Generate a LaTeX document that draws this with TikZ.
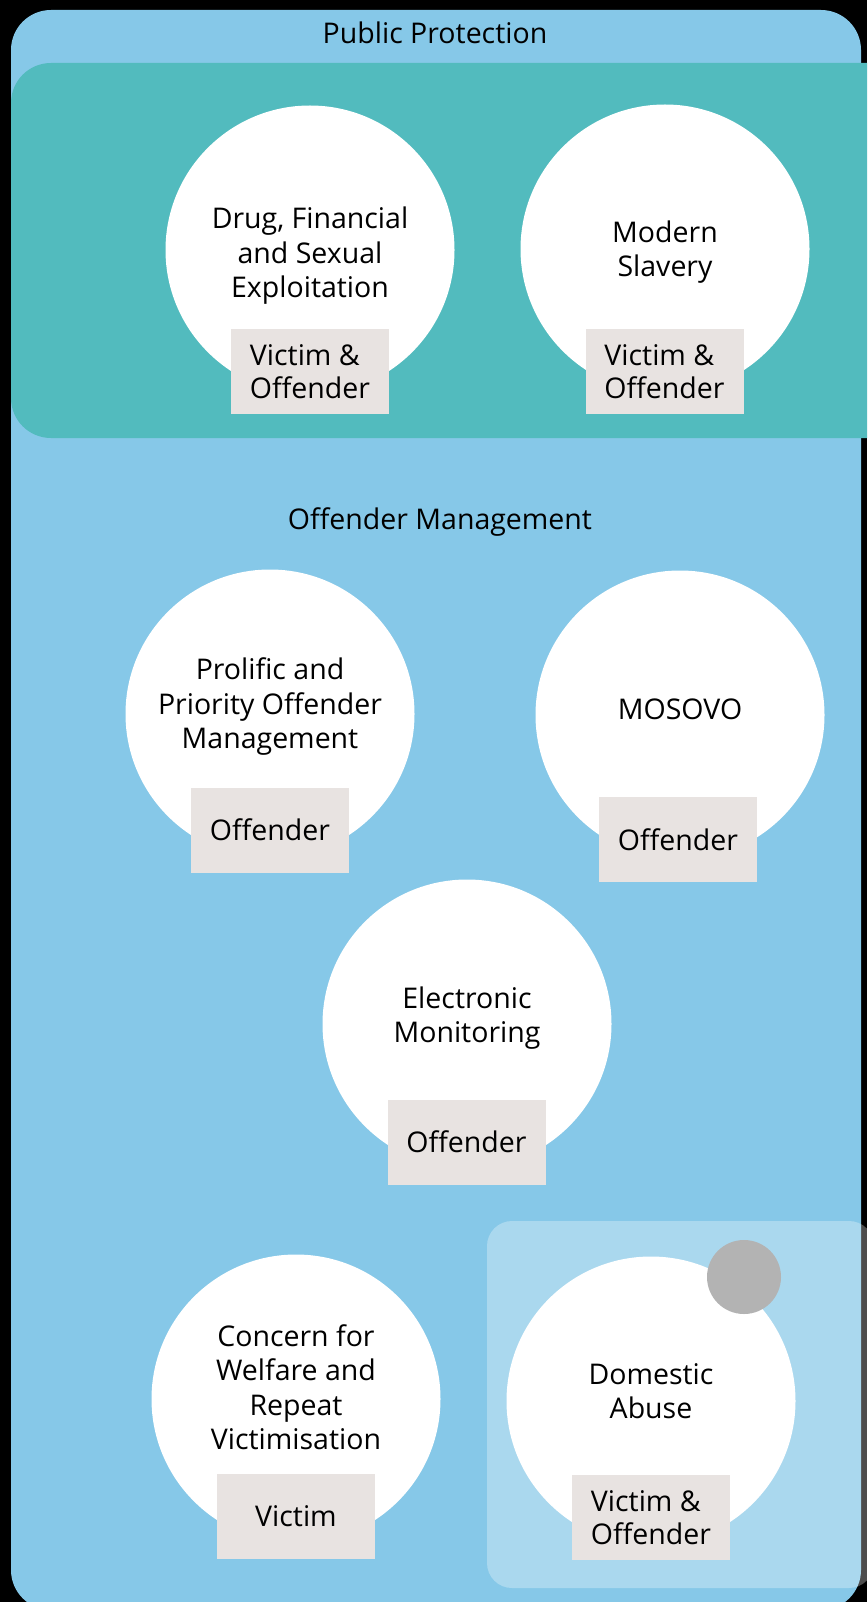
\documentclass[tikz,border=0pt]{standalone}
\usepackage{fontspec}
\setmainfont{Open Sans}
\definecolor{outerblue}{HTML}{86C8E8}
\definecolor{tealbox}{HTML}{52BBBE}
\definecolor{labelgray}{HTML}{E8E3E1}
\definecolor{dotgray}{HTML}{B3B3B3}
\begin{document}
\begin{tikzpicture}[x=1pt,y=-1pt,
  circ/.style={circle,fill=white,minimum size=289pt,inner sep=0pt},
  ctext/.style={align=center,font=\fontsize{28.5}{34.5}\selectfont,text=black},
  tag/.style={fill=labelgray,minimum width=158pt,minimum height=85pt,inner sep=0pt,
    align=left,font=\fontsize{28.5}{33.5}\selectfont},
  title/.style={font=\fontsize{28.5}{30}\selectfont,text=black}]
\useasboundingbox (0,0) rectangle (867,1602);
\clip (0,0) rectangle (867,1602);
\fill[black] (0,0) rectangle (867,1602);
% outer panel
\fill[outerblue,rounded corners=40pt] (11,10) rectangle (861,1610);
% public protection band
\fill[tealbox,rounded corners=40pt] (11,63) rectangle (920,438);
% domestic abuse overlay
\fill[white,fill opacity=0.3,rounded corners=25pt] (487,1221) rectangle (874,1588);

\node[title] (t1) at (435,33) {Public Protection};
\node[title] (t2) at (440,522) {Offender Management};

% circles
\node[circ] (c1) at (310,250) {};
\node[circ] (c2) at (665,249) {};
\node[circ] (c3) at (270,714) {};
\node[circ] (c4) at (680,715) {};
\node[circ] (c5) at (467,1024) {};
\node[circ] (c6) at (296,1399) {};
\node[circ] (c7) at (651,1401) {};
\fill[dotgray] (744,1277) circle (37pt);

% circle texts
\node[ctext] (x1) at (310,256) {Drug, Financial\\and Sexual\\Exploitation};
\node[ctext] (x2) at (665,252) {Modern\\Slavery};
\node[ctext] (x3) at (270,707) {Prolific and\\Priority Offender\\Management};
\node[ctext] (x4) at (680,709) {MOSOVO};
\node[ctext] (x5) at (467,1018) {Electronic\\Monitoring};
\node[ctext] (x6) at (296,1387) {Concern for\\Welfare and\\Repeat\\Victimisation};
\node[ctext] (x7) at (651,1391) {Domestic\\Abuse};

% tags
\node[tag] (b1) at (310,371.5) {Victim \&\\Offender};
\node[tag] (b2) at (664.5,371.5) {Victim \&\\Offender};
\node[tag] (b3) at (270,830) {Offender};
\node[tag] (b4) at (678,839.5) {Offender};
\node[tag] (b5) at (466.5,1142) {Offender};
\node[tag] (b6) at (296,1516.5) {Victim};
\node[tag] (b7) at (651,1517.5) {Victim \&\\Offender};
\end{tikzpicture}
\end{document}
